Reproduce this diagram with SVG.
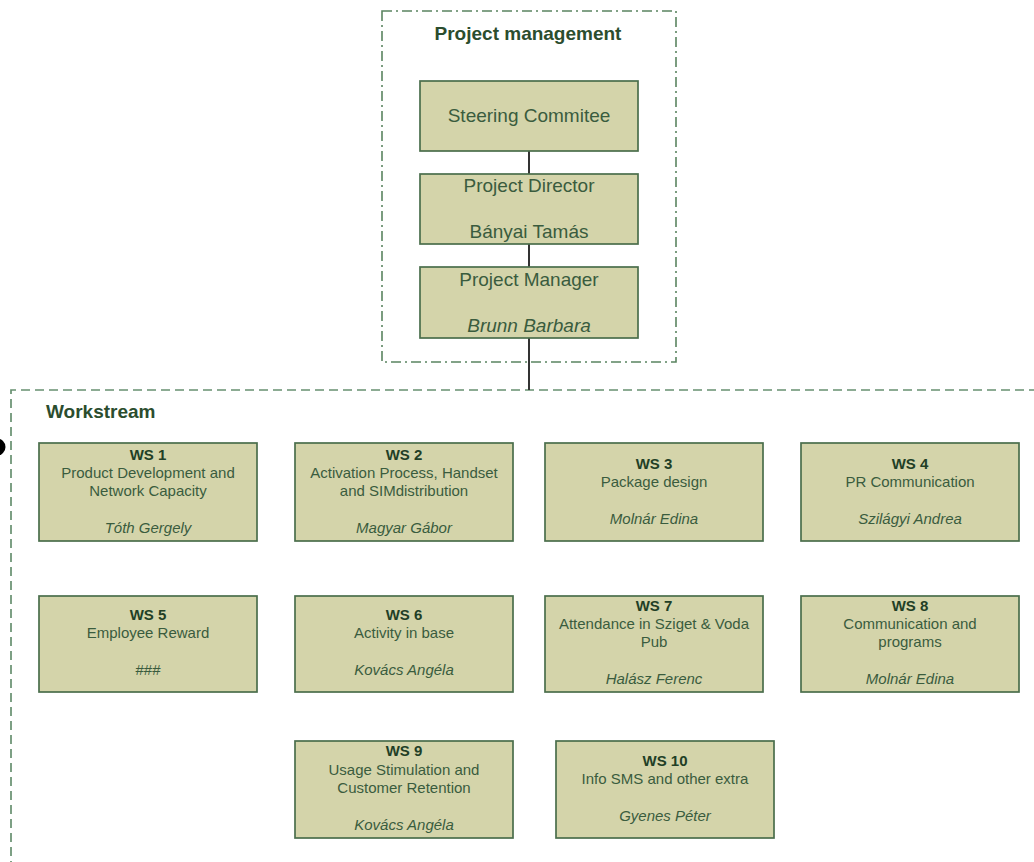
<svg xmlns="http://www.w3.org/2000/svg" width="1034" height="862" viewBox="0 0 1034 862">
<style>
.frame1{fill:none;stroke:#5a8460;stroke-width:1.6;stroke-dasharray:10 4 2 4}
.frame2{fill:none;stroke:#679070;stroke-width:1.7;stroke-dasharray:9 5}
.box{fill:#d4d4aa;stroke:#4a6e4c;stroke-width:1.7}
.title{font-family:"Liberation Sans",Arial,sans-serif;font-weight:bold;font-size:19px;fill:#2b4d2e}
.big{font-family:"Liberation Sans",Arial,sans-serif;font-size:19px;fill:#3a5c3e;text-anchor:middle}
.t{font-family:"Liberation Sans",Arial,sans-serif;font-size:15px;fill:#3a5c3e;text-anchor:middle}
.b{font-weight:bold;fill:#223f26}
.i{font-style:italic}
.conn{stroke:#333;stroke-width:2;fill:none}
</style>
<rect width="1034" height="862" fill="#fff"/>
<g id="frame-project-management">
<rect class="frame1" x="382" y="11" width="294" height="351"/>
<text class="title" x="528" y="40" text-anchor="middle">Project management</text>
</g>
<g id="frame-workstream">
<path class="frame2" d="M11 870 V390 H1040"/>
<text class="title" x="46" y="418">Workstream</text>
</g>
<circle cx="-3" cy="447" r="8.5" fill="#000"/>
<g id="connectors">
<line class="conn" x1="529" y1="151" x2="529" y2="174"/>
<line class="conn" x1="529" y1="244" x2="529" y2="267"/>
<line class="conn" x1="529" y1="338" x2="529" y2="390"/>
</g>
<g id="steering">
<rect class="box" x="420" y="81" width="218" height="70"/>
<text class="big" x="529" y="122">Steering Commitee</text>
</g>
<g id="director">
<rect class="box" x="420" y="174" width="218" height="70"/>
<text class="big" x="529" y="192">Project Director</text>
<text class="big" x="529" y="238">Bányai Tamás</text>
</g>
<g id="manager">
<rect class="box" x="420" y="267" width="218" height="71"/>
<text class="big" x="529" y="286">Project Manager</text>
<text class="big i" x="529" y="332">Brunn Barbara</text>
</g>
<g id="ws1">
<rect class="box" x="39" y="443" width="218" height="98"/>
<text class="t b" x="148" y="460">WS 1</text>
<text class="t" x="148" y="478">Product Development and</text>
<text class="t" x="148" y="496">Network Capacity</text>
<text class="t i" x="148" y="533">Tóth Gergely</text>
</g>
<g id="ws2">
<rect class="box" x="295" y="443" width="218" height="98"/>
<text class="t b" x="404" y="460">WS 2</text>
<text class="t" x="404" y="478">Activation Process, Handset</text>
<text class="t" x="404" y="496">and SIMdistribution</text>
<text class="t i" x="404" y="533">Magyar Gábor</text>
</g>
<g id="ws3">
<rect class="box" x="545" y="443" width="218" height="98"/>
<text class="t b" x="654" y="469">WS 3</text>
<text class="t" x="654" y="487">Package design</text>
<text class="t i" x="654" y="524">Molnár Edina</text>
</g>
<g id="ws4">
<rect class="box" x="801" y="443" width="218" height="98"/>
<text class="t b" x="910" y="469">WS 4</text>
<text class="t" x="910" y="487">PR Communication</text>
<text class="t i" x="910" y="524">Szilágyi Andrea</text>
</g>
<g id="ws5">
<rect class="box" x="39" y="596" width="218" height="96"/>
<text class="t b" x="148" y="620">WS 5</text>
<text class="t" x="148" y="638">Employee Reward</text>
<text class="t" x="148" y="675">###</text>
</g>
<g id="ws6">
<rect class="box" x="295" y="596" width="218" height="96"/>
<text class="t b" x="404" y="620">WS 6</text>
<text class="t" x="404" y="638">Activity in base</text>
<text class="t i" x="404" y="675">Kovács Angéla</text>
</g>
<g id="ws7">
<rect class="box" x="545" y="596" width="218" height="96"/>
<text class="t b" x="654" y="611">WS 7</text>
<text class="t" x="654" y="629">Attendance in Sziget &amp; Voda</text>
<text class="t" x="654" y="647">Pub</text>
<text class="t i" x="654" y="684">Halász Ferenc</text>
</g>
<g id="ws8">
<rect class="box" x="801" y="596" width="218" height="96"/>
<text class="t b" x="910" y="611">WS 8</text>
<text class="t" x="910" y="629">Communication and</text>
<text class="t" x="910" y="647">programs</text>
<text class="t i" x="910" y="684">Molnár Edina</text>
</g>
<g id="ws9">
<rect class="box" x="295" y="741" width="218" height="97"/>
<text class="t b" x="404" y="756">WS 9</text>
<text class="t" x="404" y="775">Usage Stimulation and</text>
<text class="t" x="404" y="793">Customer Retention</text>
<text class="t i" x="404" y="830">Kovács Angéla</text>
</g>
<g id="ws10">
<rect class="box" x="556" y="741" width="218" height="97"/>
<text class="t b" x="665" y="766">WS 10</text>
<text class="t" x="665" y="784">Info SMS and other extra</text>
<text class="t i" x="665" y="821">Gyenes Péter</text>
</g>
</svg>
